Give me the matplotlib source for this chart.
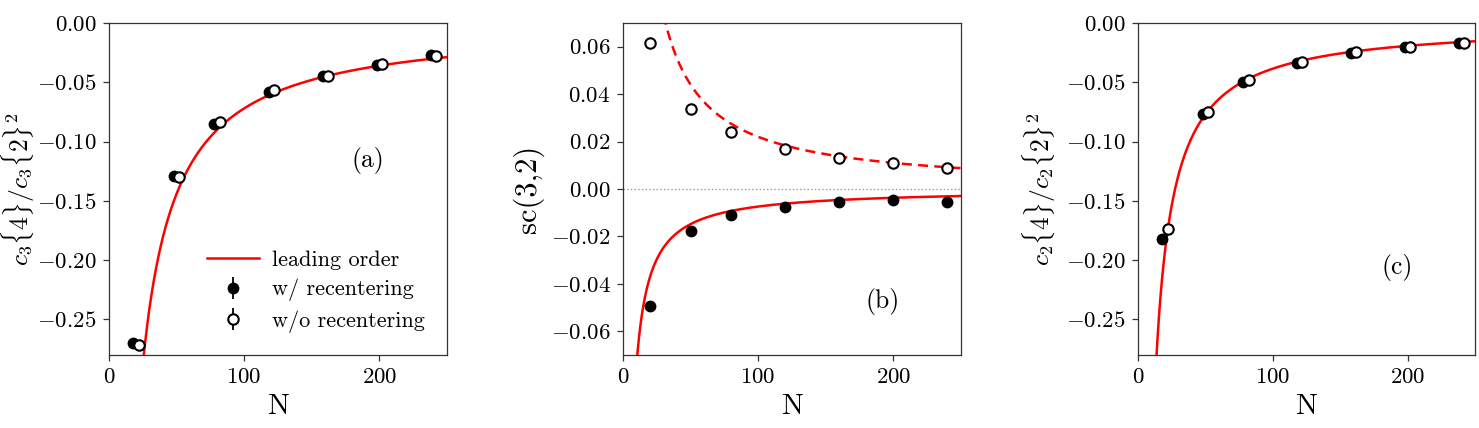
import numpy as np
import matplotlib
matplotlib.use("Agg")
import matplotlib.pyplot as plt
from matplotlib.ticker import MultipleLocator, FuncFormatter

plt.rcParams['font.family'] = 'serif'
plt.rcParams['font.serif'] = ['cmr10']
plt.rcParams['mathtext.fontset'] = 'cm'
plt.rcParams['axes.formatter.use_mathtext'] = True

# ---------------- data ----------------
N = [20, 50, 80, 120, 160, 200, 240]

# panel (a): c3{4}/c3{2}^2
a_with = [-0.270, -0.1287, -0.0853, -0.0586, -0.0445, -0.0358, -0.0273]
a_without = [-0.2717, -0.1295, -0.0836, -0.0569, -0.0445, -0.0343, -0.0276]
a_err = [0.003, 0.002, 0.0015, 0.001, 0.001, 0.001, 0.001]
a_coef = -7.2          # leading order ~ a_coef / N

# panel (b): sc(3,2)
b_with = [-0.0492, -0.0176, -0.0110, -0.0075, -0.0054, -0.0046, -0.0054]
b_without = [0.0615, 0.0338, 0.0242, 0.0167, 0.0132, 0.0111, 0.0087]
b_err = [0.001, 0.0008, 0.0006, 0.0005, 0.0005, 0.0005, 0.0005]
b_coef_with = -0.74    # solid line ~ coef / N
b_coef_without = 2.2   # dashed line ~ coef / N

# panel (c): c2{4}/c2{2}^2
c_with = [-0.1824, -0.0769, -0.0496, -0.0335, -0.0251, -0.0203, -0.0166]
c_without = [-0.1734, -0.0749, -0.0481, -0.0330, -0.0248, -0.0200, -0.0166]
c_err = [0.003, 0.0015, 0.001, 0.001, 0.001, 0.001, 0.001]
c_coef = -3.85

x_shift = 2  # horizontal offset between the two data sets in (a),(c)

# ---------------- figure ----------------
fig = plt.figure(figsize=(14.79, 4.28), dpi=100)
W, H = 1479, 428
def ax_at(left, right, top=23, bottom=355):
    return fig.add_axes([left / W, (H - bottom) / H, (right - left) / W, (bottom - top) / H])

axA = ax_at(109, 447)
axB = ax_at(623, 961)
axC = ax_at(1138, 1475)

Ngrid = np.linspace(1, 260, 2000)
Narr = np.array(N)
red = '#ff0000'
tick_fs = 16.5
lab_fs = 21
mlab_fs = 18.5

def fmt(v, pos):
    return f"${v:.2f}$"

def style(ax, ylim, ystep):
    ax.set_xlim(0, 250)
    ax.set_ylim(*ylim)
    ax.xaxis.set_major_locator(MultipleLocator(100))
    ax.yaxis.set_major_locator(MultipleLocator(ystep))
    ax.yaxis.set_major_formatter(FuncFormatter(fmt))
    ax.xaxis.set_major_formatter(FuncFormatter(lambda v, p: f"${int(v)}$"))
    ax.tick_params(labelsize=tick_fs, length=4, width=0.9, color='#333333', pad=5)
    for s in ax.spines.values():
        s.set_linewidth(0.9)
        s.set_color('#333333')
    ax.set_xlabel('N', fontsize=lab_fs, labelpad=5)

ms = 7.5
# (a)
axA.plot(Ngrid, a_coef / Ngrid, color=red, lw=1.8, label='leading order', zorder=2)
axA.errorbar(Narr - x_shift, a_with, yerr=a_err, fmt='o', color='k', ms=ms, elinewidth=1.3,
             label='w/ recentering', zorder=3)
axA.errorbar(Narr + x_shift, a_without, yerr=a_err, fmt='o', color='k', mfc='white', mec='k',
             mew=1.5, ms=ms, elinewidth=1.3, label='w/o recentering', zorder=4)
style(axA, (-0.28, 0.0), 0.05)
axA.set_ylabel(r'$c_3\{4\}/c_3\{2\}^2$', fontsize=mlab_fs)
axA.yaxis.set_label_coords(-0.212, 0.5)
axA.text(0.766, 0.587, '(a)', transform=axA.transAxes, fontsize=18.5, ha='center', va='center')
axA.legend(loc='lower right', bbox_to_anchor=(1.0, 0.0), frameon=False, fontsize=16,
           handlelength=2.3, handletextpad=0.6, labelspacing=0.4, borderaxespad=0.6)

# (b)
axB.axhline(0, color='#999999', lw=1.0, ls=':', zorder=1)
axB.plot(Ngrid, b_coef_without / Ngrid, color=red, lw=1.8, ls=(0, (4, 2.5)), zorder=2)
axB.plot(Ngrid, b_coef_with / Ngrid, color=red, lw=1.8, zorder=2)
axB.errorbar(Narr, b_with, yerr=b_err, fmt='o', color='k', ms=ms, elinewidth=1.3, zorder=3)
axB.errorbar(Narr, b_without, yerr=b_err, fmt='o', color='k', mfc='white', mec='k',
             mew=1.5, ms=ms, elinewidth=1.3, zorder=4)
style(axB, (-0.07, 0.07), 0.02)
axB.set_ylabel('sc(3,2)', fontsize=22)
axB.yaxis.set_label_coords(-0.234, 0.5)
axB.text(0.769, 0.16, '(b)', transform=axB.transAxes, fontsize=18.5, ha='center', va='center')

# (c)
axC.plot(Ngrid, c_coef / Ngrid, color=red, lw=1.8, zorder=2)
axC.errorbar(Narr - x_shift, c_with, yerr=c_err, fmt='o', color='k', ms=ms, elinewidth=1.3, zorder=3)
axC.errorbar(Narr + x_shift, c_without, yerr=c_err, fmt='o', color='k', mfc='white', mec='k',
             mew=1.5, ms=ms, elinewidth=1.3, zorder=4)
style(axC, (-0.28, 0.0), 0.05)
axC.set_ylabel(r'$c_2\{4\}/c_2\{2\}^2$', fontsize=mlab_fs)
axC.yaxis.set_label_coords(-0.236, 0.5)
axC.text(0.769, 0.265, '(c)', transform=axC.transAxes, fontsize=18.5, ha='center', va='center')

fig.savefig('out.png', dpi=100)
